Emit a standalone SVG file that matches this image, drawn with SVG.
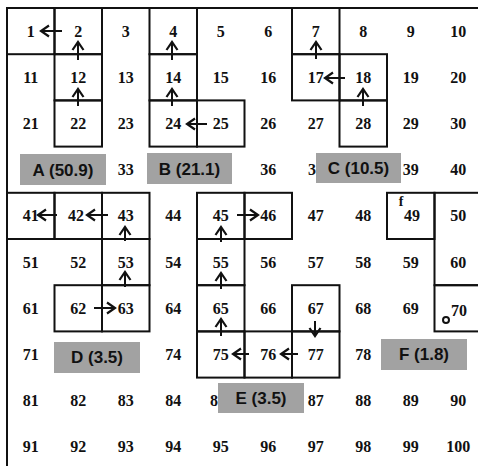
<svg xmlns="http://www.w3.org/2000/svg" width="478" height="468" viewBox="0 0 478 468">
<style>
.n{font-family:"Liberation Serif","Times New Roman",serif;font-weight:bold;font-size:16px;text-anchor:middle;fill:#111}
.b{fill:none;stroke:#111;stroke-width:2}
.fr{stroke:#111;stroke-width:2;fill:none}
.lr{fill:#a2a2a2}
.lt{font-family:"Liberation Sans",Arial,sans-serif;font-weight:bold;font-size:17px;text-anchor:middle;fill:#111}
.a{stroke:#111;stroke-width:2;fill:none;marker-end:url(#ah)}
</style>
<defs>
<marker id="ah" markerUnits="userSpaceOnUse" markerWidth="14" markerHeight="16" viewBox="-10 -8 12 16" refX="0" refY="0" orient="auto">
<path d="M-8,-5.5 L0,0 L-8,5.5" fill="none" stroke="#111" stroke-width="2.2"/>
</marker>
</defs>
<rect x="0" y="0" width="478" height="468" fill="#fff"/>
<g id="frame">
<path class="fr" d="M7,466 L7,8 L478,8"/>
</g>
<!-- row 1 -->
<g id="n1"><rect class="b" x="7" y="8" width="47.5" height="46.2"/><text class="n" x="30.75" y="36.5">1</text></g>
<g id="n2"><rect class="b" x="54.5" y="8" width="47.5" height="46.2"/><text class="n" x="78.25" y="36.5">2</text></g>
<g id="n3"><text class="n" x="125.75" y="36.5">3</text></g>
<g id="n4"><rect class="b" x="149.5" y="8" width="47.5" height="46.2"/><text class="n" x="173.25" y="36.5">4</text></g>
<g id="n5"><text class="n" x="220.75" y="36.5">5</text></g>
<g id="n6"><text class="n" x="268.25" y="36.5">6</text></g>
<g id="n7"><rect class="b" x="292" y="8" width="47.5" height="46.2"/><text class="n" x="315.75" y="36.5">7</text></g>
<g id="n8"><text class="n" x="363.25" y="36.5">8</text></g>
<g id="n9"><text class="n" x="410.75" y="36.5">9</text></g>
<g id="n10"><text class="n" x="458.25" y="36.5">10</text></g>
<!-- row 2 -->
<g id="n11"><text class="n" x="30.75" y="82.7">11</text></g>
<g id="n12"><rect class="b" x="54.5" y="54.2" width="47.5" height="46.2"/><text class="n" x="78.25" y="82.7">12</text></g>
<g id="n13"><text class="n" x="125.75" y="82.7">13</text></g>
<g id="n14"><rect class="b" x="149.5" y="54.2" width="47.5" height="46.2"/><text class="n" x="173.25" y="82.7">14</text></g>
<g id="n15"><text class="n" x="220.75" y="82.7">15</text></g>
<g id="n16"><text class="n" x="268.25" y="82.7">16</text></g>
<g id="n17"><rect class="b" x="292" y="54.2" width="47.5" height="46.2"/><text class="n" x="315.75" y="82.7">17</text></g>
<g id="n18"><rect class="b" x="339.5" y="54.2" width="47.5" height="46.2"/><text class="n" x="363.25" y="82.7">18</text></g>
<g id="n19"><text class="n" x="410.75" y="82.7">19</text></g>
<g id="n20"><text class="n" x="458.25" y="82.7">20</text></g>
<!-- row 3 -->
<g id="n21"><text class="n" x="30.75" y="128.9">21</text></g>
<g id="n22"><rect class="b" x="54.5" y="100.4" width="47.5" height="46.2"/><text class="n" x="78.25" y="128.9">22</text></g>
<g id="n23"><text class="n" x="125.75" y="128.9">23</text></g>
<g id="n24"><rect class="b" x="149.5" y="100.4" width="47.5" height="46.2"/><text class="n" x="173.25" y="128.9">24</text></g>
<g id="n25"><rect class="b" x="197" y="100.4" width="47.5" height="46.2"/><text class="n" x="220.75" y="128.9">25</text></g>
<g id="n26"><text class="n" x="268.25" y="128.9">26</text></g>
<g id="n27"><text class="n" x="315.75" y="128.9">27</text></g>
<g id="n28"><rect class="b" x="339.5" y="100.4" width="47.5" height="46.2"/><text class="n" x="363.25" y="128.9">28</text></g>
<g id="n29"><text class="n" x="410.75" y="128.9">29</text></g>
<g id="n30"><text class="n" x="458.25" y="128.9">30</text></g>
<!-- row 4 -->
<g id="n33"><text class="n" x="125.75" y="175.1">33</text></g>
<g id="n36"><text class="n" x="268.25" y="175.1">36</text></g>
<g id="n37"><text class="n" x="312" y="175.1">3</text></g>
<g id="n39"><text class="n" x="410.75" y="175.1">39</text></g>
<g id="n40"><text class="n" x="458.25" y="175.1">40</text></g>
<!-- row 5 -->
<g id="n41"><rect class="b" x="7" y="192.8" width="47.5" height="46.2"/><text class="n" x="30.75" y="221.3">41</text></g>
<g id="n42"><rect class="b" x="54.5" y="192.8" width="47.5" height="46.2"/><text class="n" x="76" y="221.3">42</text></g>
<g id="n43"><rect class="b" x="102" y="192.8" width="47.5" height="46.2"/><text class="n" x="125.75" y="221.3">43</text></g>
<g id="n44"><text class="n" x="173.25" y="221.3">44</text></g>
<g id="n45"><rect class="b" x="197" y="192.8" width="47.5" height="46.2"/><text class="n" x="220.75" y="221.3">45</text></g>
<g id="n46"><rect class="b" x="244.5" y="192.8" width="47.5" height="46.2"/><text class="n" x="268.25" y="221.3">46</text></g>
<g id="n47"><text class="n" x="315.75" y="221.3">47</text></g>
<g id="n48"><text class="n" x="363.25" y="221.3">48</text></g>
<g id="n49"><rect class="b" x="387" y="192.8" width="47.5" height="46.2"/><text class="n" x="412" y="221.3">49</text><text class="n" style="font-size:14px" x="401" y="206">f</text></g>
<g id="n50"><rect class="b" x="434.5" y="192.8" width="47.5" height="92.4"/><text class="n" x="458.25" y="221.3">50</text></g>
<!-- row 6 -->
<g id="n51"><text class="n" x="30.75" y="267.5">51</text></g>
<g id="n52"><text class="n" x="78.25" y="267.5">52</text></g>
<g id="n53"><rect class="b" x="102" y="239" width="47.5" height="46.2"/><text class="n" x="125.75" y="267.5">53</text></g>
<g id="n54"><text class="n" x="173.25" y="267.5">54</text></g>
<g id="n55"><rect class="b" x="197" y="239" width="47.5" height="46.2"/><text class="n" x="220.75" y="267.5">55</text></g>
<g id="n56"><text class="n" x="268.25" y="267.5">56</text></g>
<g id="n57"><text class="n" x="315.75" y="267.5">57</text></g>
<g id="n58"><text class="n" x="363.25" y="267.5">58</text></g>
<g id="n59"><text class="n" x="410.75" y="267.5">59</text></g>
<g id="n60"><text class="n" x="458.25" y="267.5">60</text></g>
<!-- row 7 -->
<g id="n61"><text class="n" x="30.75" y="313.7">61</text></g>
<g id="n62"><rect class="b" x="54.5" y="285.2" width="47.5" height="46.2"/><text class="n" x="78.25" y="313.7">62</text></g>
<g id="n63"><rect class="b" x="102" y="285.2" width="47.5" height="46.2"/><text class="n" x="125.75" y="313.7">63</text></g>
<g id="n64"><text class="n" x="173.25" y="313.7">64</text></g>
<g id="n65"><rect class="b" x="197" y="285.2" width="47.5" height="46.2"/><text class="n" x="220.75" y="313.7">65</text></g>
<g id="n66"><text class="n" x="268.25" y="313.7">66</text></g>
<g id="n67"><rect class="b" x="292" y="285.2" width="47.5" height="46.2"/><text class="n" x="315.75" y="313.7">67</text></g>
<g id="n68"><text class="n" x="363.25" y="313.7">68</text></g>
<g id="n69"><text class="n" x="410.75" y="313.7">69</text></g>
<g id="n70"><rect class="b" x="434.5" y="285.2" width="47.5" height="46.2"/><text class="n" x="459" y="316">70</text><circle cx="446" cy="320" r="3" fill="none" stroke="#111" stroke-width="2"/></g>
<!-- row 8 -->
<g id="n71"><text class="n" x="30.75" y="359.9">71</text></g>
<g id="n74"><text class="n" x="173.25" y="359.9">74</text></g>
<g id="n75"><rect class="b" x="197" y="331.4" width="47.5" height="46.2"/><text class="n" x="220.75" y="359.9">75</text></g>
<g id="n76"><rect class="b" x="244.5" y="331.4" width="47.5" height="46.2"/><text class="n" x="268.25" y="359.9">76</text></g>
<g id="n77"><rect class="b" x="292" y="331.4" width="47.5" height="46.2"/><text class="n" x="315.75" y="359.9">77</text></g>
<g id="n78"><text class="n" x="363.25" y="359.9">78</text></g>
<!-- row 9 -->
<g id="n81"><text class="n" x="30.75" y="406.1">81</text></g>
<g id="n82"><text class="n" x="78.25" y="406.1">82</text></g>
<g id="n83"><text class="n" x="125.75" y="406.1">83</text></g>
<g id="n84"><text class="n" x="173.25" y="406.1">84</text></g>
<g id="n85"><text class="n" x="214" y="406.1">8</text></g>
<g id="n87"><text class="n" x="315.75" y="406.1">87</text></g>
<g id="n88"><text class="n" x="363.25" y="406.1">88</text></g>
<g id="n89"><text class="n" x="410.75" y="406.1">89</text></g>
<g id="n90"><text class="n" x="458.25" y="406.1">90</text></g>
<!-- row 10 -->
<g id="n91"><text class="n" x="30.75" y="452.3">91</text></g>
<g id="n92"><text class="n" x="78.25" y="452.3">92</text></g>
<g id="n93"><text class="n" x="125.75" y="452.3">93</text></g>
<g id="n94"><text class="n" x="173.25" y="452.3">94</text></g>
<g id="n95"><text class="n" x="220.75" y="452.3">95</text></g>
<g id="n96"><text class="n" x="268.25" y="452.3">96</text></g>
<g id="n97"><text class="n" x="315.75" y="452.3">97</text></g>
<g id="n98"><text class="n" x="363.25" y="452.3">98</text></g>
<g id="n99"><text class="n" x="410.75" y="452.3">99</text></g>
<g id="n100"><text class="n" x="458.25" y="452.3">100</text></g>
<!-- labels -->
<g id="labelA"><rect class="lr" x="20" y="154" width="86" height="31"/><text class="lt" x="63" y="175.5">A (50.9)</text></g>
<g id="labelB"><rect class="lr" x="147" y="153" width="85" height="31"/><text class="lt" x="189.5" y="174.5">B (21.1)</text></g>
<g id="labelC"><rect class="lr" x="316" y="153" width="85" height="30"/><text class="lt" x="358.5" y="174">C (10.5)</text></g>
<g id="labelD"><rect class="lr" x="54" y="342" width="86" height="31"/><text class="lt" x="97" y="363">D (3.5)</text></g>
<g id="labelE"><rect class="lr" x="218" y="383" width="86" height="30"/><text class="lt" x="261" y="404">E (3.5)</text></g>
<g id="labelF"><rect class="lr" x="381" y="339" width="86" height="31"/><text class="lt" x="424" y="360">F (1.8)</text></g>
<!-- connectors -->
<g id="connectors">
<line class="a" x1="62" y1="31" x2="41" y2="31"/>
<line class="a" x1="78" y1="60" x2="78" y2="42"/>
<line class="a" x1="78" y1="106" x2="78" y2="89"/>
<line class="a" x1="172" y1="60" x2="172" y2="42"/>
<line class="a" x1="172" y1="106" x2="172" y2="89"/>
<line class="a" x1="207" y1="124" x2="187" y2="124"/>
<line class="a" x1="316" y1="59" x2="316" y2="42"/>
<line class="a" x1="345" y1="78" x2="325" y2="78"/>
<line class="a" x1="363" y1="106" x2="363" y2="89"/>
<line class="a" x1="57" y1="215" x2="38" y2="215"/>
<line class="a" x1="108" y1="215" x2="87" y2="215"/>
<line class="a" x1="125" y1="241" x2="125" y2="227"/>
<line class="a" x1="125" y1="287" x2="125" y2="272"/>
<line class="a" x1="94" y1="308" x2="115" y2="308"/>
<line class="a" x1="237" y1="215" x2="258" y2="215"/>
<line class="a" x1="221" y1="242" x2="221" y2="227"/>
<line class="a" x1="221" y1="289" x2="221" y2="273"/>
<line class="a" x1="221" y1="336" x2="221" y2="319"/>
<line class="a" x1="249" y1="354" x2="233" y2="354"/>
<line class="a" x1="298" y1="354" x2="281" y2="354"/>
<line class="a" x1="315" y1="321" x2="315" y2="336"/>
</g>
</svg>
